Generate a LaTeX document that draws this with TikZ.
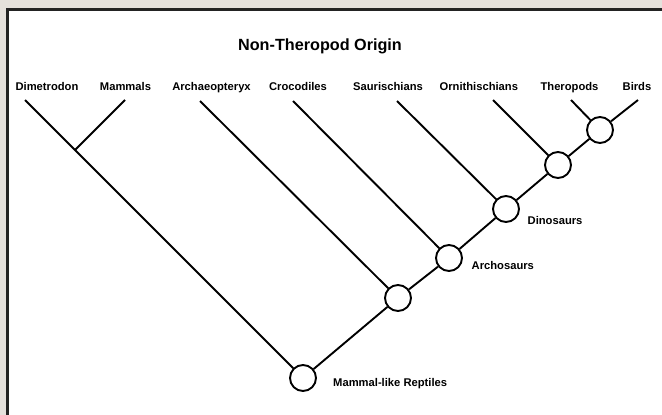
\documentclass[tikz,border=0pt]{standalone}
\usepackage{fontspec}
\setmainfont{Liberation Sans}
\usetikzlibrary{positioning}

\definecolor{pagegray}{HTML}{E5E1DC}
\definecolor{frameline}{HTML}{232323}

\begin{document}
\begin{tikzpicture}[x=1pt, y=-1pt,
    branch/.style={line width=1.9pt, black},
    clade/.style={circle, draw, line width=1.9pt, fill=white, minimum size=26pt, inner sep=0pt},
    taxon/.style={font=\bfseries\fontsize{11.2}{13}\selectfont, anchor=base},
    cladename/.style={font=\bfseries\fontsize{11.2}{13}\selectfont, anchor=base west, inner xsep=0pt},
    title/.style={font=\bfseries\fontsize{16.2}{19}\selectfont, anchor=base}
]
\useasboundingbox (0,0) rectangle (662,415);
\clip (0,0) rectangle (662,415);

% Background and panel
\fill[pagegray] (0,0) rectangle (662,415);
\draw[line width=3pt, frameline, fill=white] (7,9.5) rectangle (700,450);

% Title
\node[title] (title) at (320,50.7) {Non-Theropod Origin};

% Taxa along the top
\foreach \name/\x/\txt in {dim/47/Dimetrodon, mam/125.5/Mammals, arx/211.5/Archaeopteryx,
    cro/298/Crocodiles, sau/388/Saurischians, orn/478.8/Ornithischians,
    the/569.5/Theropods, bir/637/Birds} {
    \node[taxon] (\name) at (\x,90.7) {\txt};
}

% Free ends of the branches
\foreach \name/\x/\y in {dim/25/100, mam/125/100, arx/200/101, cro/293/101,
    sau/397/101, orn/493/100, the/571/100, bir/638/100} {
    \coordinate (\name-top) at (\x,\y);
}
\coordinate (mj) at (75,150);

% Clade nodes
\node[clade] (mlr) at (303,378) {};
\node[clade] (n2) at (398,298) {};
\node[clade] (archo) at (449,258) {};
\node[clade] (dino) at (506,209) {};
\node[clade] (n5) at (558,165) {};
\node[clade] (n6) at (600,130) {};

% Branches
\draw[branch] (dim-top) -- (mlr);
\draw[branch] (mam-top) -- (mj);
\draw[branch] (arx-top) -- (n2);
\draw[branch] (cro-top) -- (archo);
\draw[branch] (sau-top) -- (dino);
\draw[branch] (orn-top) -- (n5);
\draw[branch] (the-top) -- (n6);
\draw[branch] (mlr) -- (n2) -- (archo) -- (dino) -- (n5) -- (n6) -- (bir-top);

% Clade names
\node[cladename] (mlr-name) at (333,386.5) {Mammal-like Reptiles};
\node[cladename] (archo-name) at (471.5,269.3) {Archosaurs};
\node[cladename] (dino-name) at (527.5,224.3) {Dinosaurs};

\end{tikzpicture}
\end{document}
